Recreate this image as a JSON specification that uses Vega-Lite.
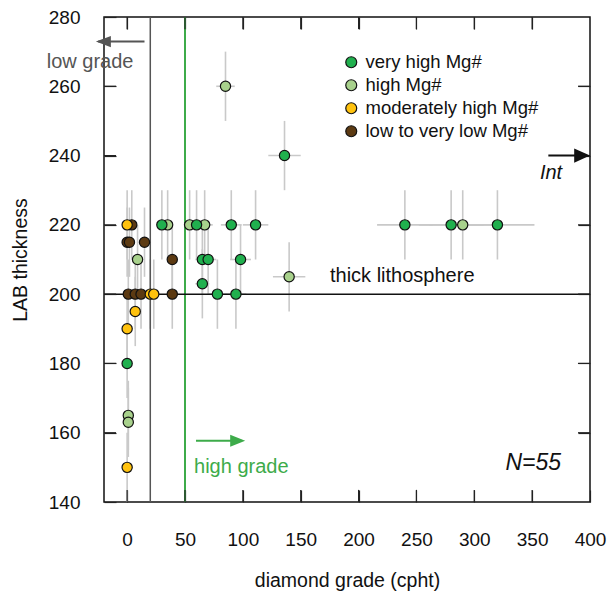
{
  "$schema": "https://vega.github.io/schema/vega-lite/v6.json",
  "width": 486,
  "height": 485,
  "autosize": {"type": "none"},
  "padding": {"left": 104, "top": 17, "right": 18, "bottom": 94},
  "config": {
    "font": "Liberation Sans",
    "view": {"stroke": "#111111", "strokeWidth": 1.5},
    "axis": {
      "grid": false,
      "domain": false,
      "ticks": true,
      "zindex": 1,
      "offset": -12,
      "tickColor": "#222222",
      "tickOpacity": 1,
      "tickWidth": 1.2,
      "tickSize": 12,
      "labelFontSize": 19,
      "labelColor": "#111111",
      "labelFlush": false,
      "titleFontSize": 19.5,
      "titleFontWeight": "normal",
      "titleColor": "#111111"
    }
  },
  "datasets": {
    "xticks": [{"g": 0}, {"g": 50}, {"g": 100}, {"g": 150}, {"g": 200}, {"g": 250}, {"g": 300}, {"g": 350}],
    "yticks": [{"t": 160}, {"t": 180}, {"t": 200}, {"t": 220}, {"t": 240}, {"t": 260}],
    "pts": [
      {"x": 85, "y": 260, "cat": "high Mg#", "xlo": 77, "xhi": 93, "ylo": 250, "yhi": 270},
      {"x": 35, "y": 220, "cat": "high Mg#", "xlo": 32, "xhi": 38, "ylo": 210, "yhi": 230},
      {"x": 54, "y": 220, "cat": "high Mg#", "xlo": 49, "xhi": 59, "ylo": 210, "yhi": 230},
      {"x": 67, "y": 220, "cat": "high Mg#", "xlo": 60, "xhi": 74, "ylo": 210, "yhi": 230},
      {"x": 290, "y": 220, "cat": "high Mg#", "xlo": 261, "xhi": 319, "ylo": 210, "yhi": 230},
      {"x": 140, "y": 205, "cat": "high Mg#", "xlo": 126, "xhi": 154, "ylo": 195, "yhi": 215},
      {"x": 9, "y": 210, "cat": "high Mg#", "xlo": 8, "xhi": 10, "ylo": 200, "yhi": 220},
      {"x": 1, "y": 165, "cat": "high Mg#", "xlo": 1, "xhi": 1, "ylo": 155, "yhi": 175},
      {"x": 1, "y": 163, "cat": "high Mg#", "xlo": 1, "xhi": 1, "ylo": 153, "yhi": 173},
      {"x": 4, "y": 220, "cat": "low to very low Mg#", "xlo": 4, "xhi": 4, "ylo": 210, "yhi": 230},
      {"x": 0, "y": 215, "cat": "low to very low Mg#", "xlo": 0, "xhi": 0, "ylo": 205, "yhi": 225},
      {"x": 2, "y": 215, "cat": "low to very low Mg#", "xlo": 2, "xhi": 2, "ylo": 205, "yhi": 225},
      {"x": 15, "y": 215, "cat": "low to very low Mg#", "xlo": 14, "xhi": 16, "ylo": 205, "yhi": 225},
      {"x": 39, "y": 210, "cat": "low to very low Mg#", "xlo": 35, "xhi": 43, "ylo": 200, "yhi": 220},
      {"x": 1, "y": 200, "cat": "low to very low Mg#", "xlo": 1, "xhi": 1, "ylo": 190, "yhi": 210},
      {"x": 7, "y": 200, "cat": "low to very low Mg#", "xlo": 6, "xhi": 8, "ylo": 190, "yhi": 210},
      {"x": 12, "y": 200, "cat": "low to very low Mg#", "xlo": 11, "xhi": 13, "ylo": 190, "yhi": 210},
      {"x": 39, "y": 200, "cat": "low to very low Mg#", "xlo": 35, "xhi": 43, "ylo": 190, "yhi": 210},
      {"x": 0, "y": 220, "cat": "moderately high Mg#", "xlo": 0, "xhi": 0, "ylo": 210, "yhi": 230},
      {"x": 20, "y": 200, "cat": "moderately high Mg#", "xlo": 18, "xhi": 22, "ylo": 190, "yhi": 210},
      {"x": 23, "y": 200, "cat": "moderately high Mg#", "xlo": 21, "xhi": 25, "ylo": 190, "yhi": 210},
      {"x": 7, "y": 195, "cat": "moderately high Mg#", "xlo": 6, "xhi": 8, "ylo": 185, "yhi": 205},
      {"x": 0, "y": 190, "cat": "moderately high Mg#", "xlo": 0, "xhi": 0, "ylo": 180, "yhi": 200},
      {"x": 0, "y": 150, "cat": "moderately high Mg#", "xlo": 0, "xhi": 0, "ylo": 140, "yhi": 160},
      {"x": 0, "y": 180, "cat": "very high Mg#", "xlo": 0, "xhi": 0, "ylo": 170, "yhi": 190},
      {"x": 30, "y": 220, "cat": "very high Mg#", "xlo": 27, "xhi": 33, "ylo": 210, "yhi": 230},
      {"x": 60, "y": 220, "cat": "very high Mg#", "xlo": 54, "xhi": 66, "ylo": 210, "yhi": 230},
      {"x": 90, "y": 220, "cat": "very high Mg#", "xlo": 81, "xhi": 99, "ylo": 210, "yhi": 230},
      {"x": 111, "y": 220, "cat": "very high Mg#", "xlo": 100, "xhi": 122, "ylo": 210, "yhi": 230},
      {"x": 136, "y": 240, "cat": "very high Mg#", "xlo": 122, "xhi": 150, "ylo": 230, "yhi": 250},
      {"x": 240, "y": 220, "cat": "very high Mg#", "xlo": 216, "xhi": 264, "ylo": 210, "yhi": 230},
      {"x": 280, "y": 220, "cat": "very high Mg#", "xlo": 252, "xhi": 308, "ylo": 210, "yhi": 230},
      {"x": 320, "y": 220, "cat": "very high Mg#", "xlo": 288, "xhi": 352, "ylo": 210, "yhi": 230},
      {"x": 65, "y": 210, "cat": "very high Mg#", "xlo": 59, "xhi": 71, "ylo": 200, "yhi": 220},
      {"x": 70, "y": 210, "cat": "very high Mg#", "xlo": 63, "xhi": 77, "ylo": 200, "yhi": 220},
      {"x": 98, "y": 210, "cat": "very high Mg#", "xlo": 89, "xhi": 107, "ylo": 200, "yhi": 220},
      {"x": 65, "y": 203, "cat": "very high Mg#", "xlo": 59, "xhi": 71, "ylo": 193, "yhi": 213},
      {"x": 78, "y": 200, "cat": "very high Mg#", "xlo": 70, "xhi": 86, "ylo": 190, "yhi": 210},
      {"x": 94, "y": 200, "cat": "very high Mg#", "xlo": 85, "xhi": 103, "ylo": 190, "yhi": 210}
    ]
  },
  "layer": [
    {
      "data": {"name": "pts"},
      "mark": {"type": "rule", "color": "#c9c9c9", "strokeWidth": 1.6},
      "encoding": {
        "x": {"field": "x", "type": "quantitative", "scale": {"domain": [-20, 400], "nice": false, "zero": false},
              "axis": {"orient": "top", "ticks": true, "labels": false, "title": null, "values": [0, 50, 100, 150, 200, 250, 300, 350]}},
        "y": {"field": "ylo", "type": "quantitative", "scale": {"domain": [140, 280], "nice": false, "zero": false},
              "axis": {"orient": "right", "ticks": true, "labels": false, "title": null, "values": [160, 180, 200, 220, 240, 260]}},
        "y2": {"field": "yhi"}
      }
    },
    {
      "data": {"name": "pts"},
      "mark": {"type": "rule", "color": "#c9c9c9", "strokeWidth": 1.6},
      "encoding": {
        "x": {"field": "xlo", "type": "quantitative", "scale": {"domain": [-20, 400], "nice": false, "zero": false}, "axis": null},
        "x2": {"field": "xhi"},
        "y": {"field": "y", "type": "quantitative", "scale": {"domain": [140, 280], "nice": false, "zero": false}, "axis": null}
      }
    },
    {
      "data": {"values": [{"grade": 20}]},
      "mark": {"type": "rule", "color": "#555555", "strokeWidth": 1.5},
      "encoding": {
        "x": {"field": "grade", "type": "quantitative", "scale": {"domain": [-20, 400], "nice": false, "zero": false}, "axis": null}
      }
    },
    {
      "data": {"values": [{"grade": 50}]},
      "mark": {"type": "rule", "color": "#3dab4a", "strokeWidth": 2},
      "encoding": {
        "x": {"field": "grade", "type": "quantitative", "scale": {"domain": [-20, 400], "nice": false, "zero": false}, "axis": null}
      }
    },
    {
      "data": {"values": [{"lab": 200}]},
      "mark": {"type": "rule", "color": "#111111", "strokeWidth": 1.5},
      "encoding": {
        "y": {"field": "lab", "type": "quantitative", "scale": {"domain": [140, 280], "nice": false, "zero": false}, "axis": null}
      }
    },
    {
      "data": {"name": "xticks"},
      "mark": {"type": "rule", "color": "#222222", "strokeWidth": 1.2},
      "encoding": {
        "x": {"field": "g", "type": "quantitative", "scale": {"domain": [-20, 400], "nice": false, "zero": false}, "axis": null},
        "y": {"datum": 140, "type": "quantitative", "scale": {"domain": [140, 280], "nice": false, "zero": false}, "axis": null},
        "y2": {"datum": 143.5}
      }
    },
    {
      "data": {"name": "xticks"},
      "mark": {"type": "rule", "color": "#222222", "strokeWidth": 1.2},
      "encoding": {
        "x": {"field": "g", "type": "quantitative", "scale": {"domain": [-20, 400], "nice": false, "zero": false}, "axis": null},
        "y": {"datum": 276.5, "type": "quantitative", "scale": {"domain": [140, 280], "nice": false, "zero": false}, "axis": null},
        "y2": {"datum": 280}
      }
    },
    {
      "data": {"name": "yticks"},
      "mark": {"type": "rule", "color": "#222222", "strokeWidth": 1.2},
      "encoding": {
        "y": {"field": "t", "type": "quantitative", "scale": {"domain": [140, 280], "nice": false, "zero": false}, "axis": null},
        "x": {"datum": -20, "type": "quantitative", "scale": {"domain": [-20, 400], "nice": false, "zero": false}, "axis": null},
        "x2": {"datum": -9.6}
      }
    },
    {
      "data": {"name": "yticks"},
      "mark": {"type": "rule", "color": "#222222", "strokeWidth": 1.2},
      "encoding": {
        "y": {"field": "t", "type": "quantitative", "scale": {"domain": [140, 280], "nice": false, "zero": false}, "axis": null},
        "x": {"datum": 389.6, "type": "quantitative", "scale": {"domain": [-20, 400], "nice": false, "zero": false}, "axis": null},
        "x2": {"datum": 400}
      }
    },
    {
      "data": {"name": "pts"},
      "mark": {"type": "point", "filled": true, "size": 105, "opacity": 1, "stroke": "#111111", "strokeWidth": 1.2},
      "encoding": {
        "x": {"field": "x", "type": "quantitative", "scale": {"domain": [-20, 400], "nice": false, "zero": false},
              "axis": {"orient": "bottom", "ticks": true, "title": "diamond grade (cpht)", "values": [0, 50, 100, 150, 200, 250, 300, 350, 400], "labelPadding": 28, "titlePadding": 22}},
        "y": {"field": "y", "type": "quantitative", "scale": {"domain": [140, 280], "nice": false, "zero": false},
              "axis": {"orient": "left", "ticks": true, "title": "LAB thickness", "values": [140, 160, 180, 200, 220, 240, 260, 280], "labelPadding": 24, "titlePadding": 18}},
        "color": {
          "field": "cat", "type": "nominal",
          "scale": {"domain": ["very high Mg#", "high Mg#", "moderately high Mg#", "low to very low Mg#"],
                    "range": ["#20b04e", "#a8d18c", "#ffc20e", "#5c3a12"]},
          "legend": {"orient": "none", "legendX": 238, "legendY": 36, "title": null, "symbolType": "circle", "symbolSize": 120,
                     "symbolStrokeColor": "#111111", "symbolStrokeWidth": 1.2, "symbolOpacity": 1, "labelFontSize": 18.5,
                     "labelColor": "#111111", "labelOffset": 5, "labelLimit": 0, "rowPadding": 4, "padding": 0}
        }
      }
    },
    {
      "data": {"values": [{"x1": 15, "x2": -25, "y": 272.9}]},
      "mark": {"type": "rule", "color": "#555555", "strokeWidth": 2},
      "encoding": {
        "x": {"field": "x1", "type": "quantitative", "scale": {"domain": [-20, 400], "nice": false, "zero": false}, "axis": null},
        "x2": {"field": "x2"},
        "y": {"field": "y", "type": "quantitative", "scale": {"domain": [140, 280], "nice": false, "zero": false}, "axis": null}
      }
    },
    {
      "data": {"values": [{"x": -27, "y": 272.9}]},
      "mark": {"type": "point", "shape": "M0,0L1,-0.38L1,0.38Z", "size": 900, "filled": true, "opacity": 1, "color": "#555555"},
      "encoding": {
        "x": {"field": "x", "type": "quantitative", "scale": {"domain": [-20, 400], "nice": false, "zero": false}, "axis": null},
        "y": {"field": "y", "type": "quantitative", "scale": {"domain": [140, 280], "nice": false, "zero": false}, "axis": null}
      }
    },
    {
      "data": {"values": [{"x1": 59.5, "x2": 99, "y": 157.7}]},
      "mark": {"type": "rule", "color": "#3dab4a", "strokeWidth": 2},
      "encoding": {
        "x": {"field": "x1", "type": "quantitative", "scale": {"domain": [-20, 400], "nice": false, "zero": false}, "axis": null},
        "x2": {"field": "x2"},
        "y": {"field": "y", "type": "quantitative", "scale": {"domain": [140, 280], "nice": false, "zero": false}, "axis": null}
      }
    },
    {
      "data": {"values": [{"x": 102, "y": 157.7}]},
      "mark": {"type": "point", "shape": "M0,0L-1,-0.4L-1,0.4Z", "size": 900, "filled": true, "opacity": 1, "color": "#3dab4a"},
      "encoding": {
        "x": {"field": "x", "type": "quantitative", "scale": {"domain": [-20, 400], "nice": false, "zero": false}, "axis": null},
        "y": {"field": "y", "type": "quantitative", "scale": {"domain": [140, 280], "nice": false, "zero": false}, "axis": null}
      }
    },
    {
      "data": {"values": [{"x1": 364, "x2": 397, "y": 240}]},
      "mark": {"type": "rule", "color": "#111111", "strokeWidth": 2},
      "encoding": {
        "x": {"field": "x1", "type": "quantitative", "scale": {"domain": [-20, 400], "nice": false, "zero": false}, "axis": null},
        "x2": {"field": "x2"},
        "y": {"field": "y", "type": "quantitative", "scale": {"domain": [140, 280], "nice": false, "zero": false}, "axis": null}
      }
    },
    {
      "data": {"values": [{"x": 400, "y": 240}]},
      "mark": {"type": "point", "shape": "M0,0L-1,-0.45L-1,0.45Z", "size": 1000, "filled": true, "opacity": 1, "color": "#111111"},
      "encoding": {
        "x": {"field": "x", "type": "quantitative", "scale": {"domain": [-20, 400], "nice": false, "zero": false}, "axis": null},
        "y": {"field": "y", "type": "quantitative", "scale": {"domain": [140, 280], "nice": false, "zero": false}, "axis": null}
      }
    },
    {
      "data": {"values": [{"x": -32, "y": 267, "label": "low grade"}]},
      "mark": {"type": "text", "fontSize": 20, "color": "#555555", "align": "center", "baseline": "middle"},
      "encoding": {
        "x": {"field": "x", "type": "quantitative", "scale": {"domain": [-20, 400], "nice": false, "zero": false}, "axis": null},
        "y": {"field": "y", "type": "quantitative", "scale": {"domain": [140, 280], "nice": false, "zero": false}, "axis": null},
        "text": {"field": "label"}
      }
    },
    {
      "data": {"values": [{"x": 57.8, "y": 150.1, "label": "high grade"}]},
      "mark": {"type": "text", "fontSize": 20, "color": "#3dab4a", "align": "left", "baseline": "middle"},
      "encoding": {
        "x": {"field": "x", "type": "quantitative", "scale": {"domain": [-20, 400], "nice": false, "zero": false}, "axis": null},
        "y": {"field": "y", "type": "quantitative", "scale": {"domain": [140, 280], "nice": false, "zero": false}, "axis": null},
        "text": {"field": "label"}
      }
    },
    {
      "data": {"values": [{"x": 175.3, "y": 205.2, "label": "thick lithosphere"}]},
      "mark": {"type": "text", "fontSize": 20, "color": "#111111", "align": "left", "baseline": "middle"},
      "encoding": {
        "x": {"field": "x", "type": "quantitative", "scale": {"domain": [-20, 400], "nice": false, "zero": false}, "axis": null},
        "y": {"field": "y", "type": "quantitative", "scale": {"domain": [140, 280], "nice": false, "zero": false}, "axis": null},
        "text": {"field": "label"}
      }
    },
    {
      "data": {"values": [{"x": 366.3, "y": 235, "label": "Int"}]},
      "mark": {"type": "text", "fontSize": 20, "fontStyle": "italic", "color": "#111111", "align": "center", "baseline": "middle"},
      "encoding": {
        "x": {"field": "x", "type": "quantitative", "scale": {"domain": [-20, 400], "nice": false, "zero": false}, "axis": null},
        "y": {"field": "y", "type": "quantitative", "scale": {"domain": [140, 280], "nice": false, "zero": false}, "axis": null},
        "text": {"field": "label"}
      }
    },
    {
      "data": {"values": [{"x": 375, "y": 151.3, "label": "N=55"}]},
      "mark": {"type": "text", "fontSize": 23, "fontStyle": "italic", "color": "#111111", "align": "right", "baseline": "middle"},
      "encoding": {
        "x": {"field": "x", "type": "quantitative", "scale": {"domain": [-20, 400], "nice": false, "zero": false}, "axis": null},
        "y": {"field": "y", "type": "quantitative", "scale": {"domain": [140, 280], "nice": false, "zero": false}, "axis": null},
        "text": {"field": "label"}
      }
    }
  ],
  "resolve": {"axis": {"x": "independent", "y": "independent"}}
}
